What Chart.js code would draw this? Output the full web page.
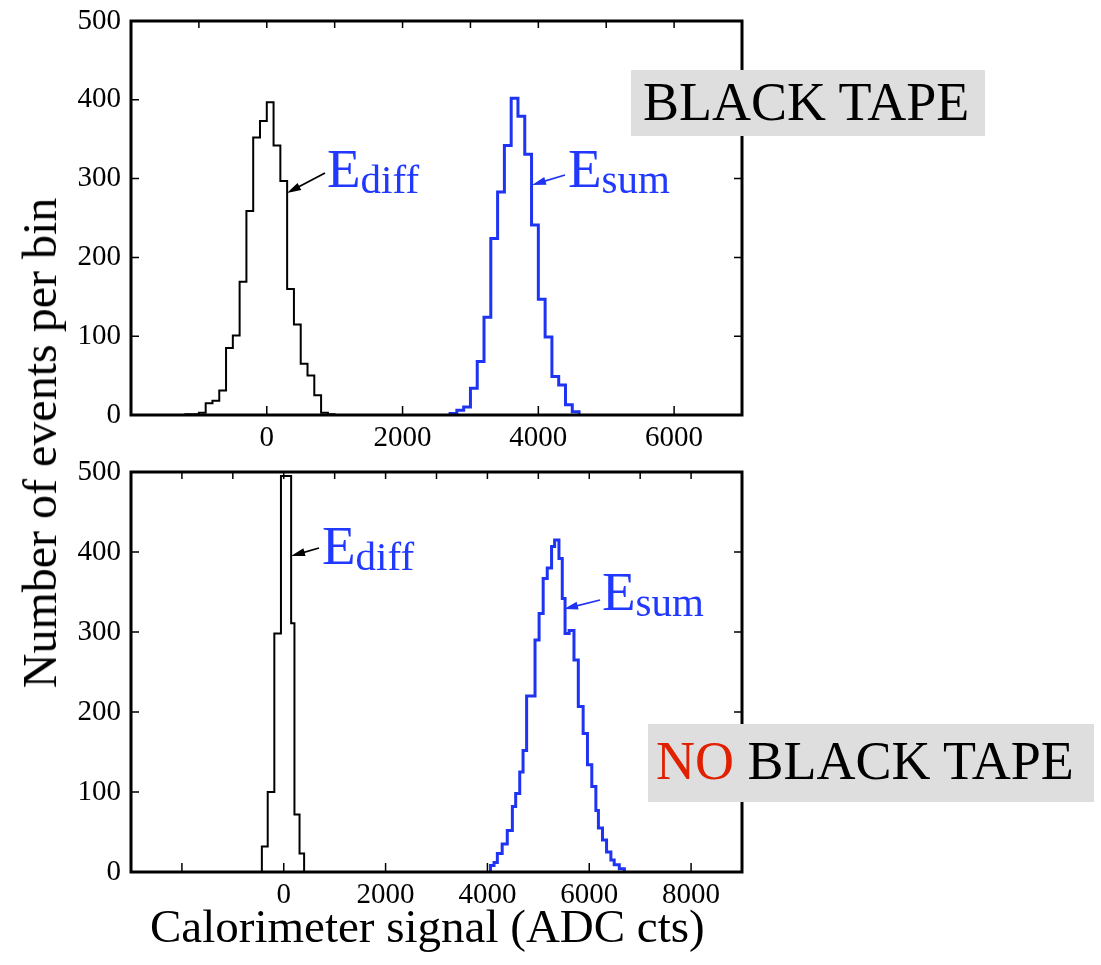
<!DOCTYPE html>
<html>
<head>
<meta charset="utf-8">
<script src="https://cdn.jsdelivr.net/npm/chart.js@4.4.1/dist/chart.umd.min.js"></script>
<style>
  body { margin: 0; background: #fff; }
  #wrap { position: relative; width: 1101px; height: 965px; overflow: hidden; font-family: "Liberation Serif", "Times New Roman", serif; }
  canvas { position: absolute; left: 0; }
  .txt { position: absolute; white-space: nowrap; color: #000; }
  .box { position: absolute; background: #dedede; }
</style>
</head>
<body>
<div id="wrap">
  <canvas id="topChart" width="1101" height="450" style="top:0"></canvas>
  <canvas id="bottomChart" width="1101" height="515" style="top:450px"></canvas>

  <div class="txt" id="yTitle" style="left:40px; top:443px; font-size:48px; line-height:48px; transform:translate(-50%,-50%) rotate(-90deg);">Number of events per bin</div>
  <div class="txt" style="left:150px; top:903px; font-size:47px; line-height:47px;">Calorimeter signal (ADC cts)</div>

  <div class="box" style="left:631px; top:70px; width:354px; height:66px;">
    <div class="txt" style="left:12px; top:5px; font-size:54px; line-height:54px;">BLACK TAPE</div>
  </div>
  <div class="box" style="left:648px; top:724px; width:446px; height:78px;">
    <div class="txt" style="left:8px; top:10px; font-size:54px; line-height:54px;"><span style="color:#e02000">NO</span> BLACK TAPE</div>
  </div>
</div>

<script>
// ---- data (bin edges in ADC counts, events per bin) ----
const topDiffEdges = [-1200, -1100, -1000, -900, -800, -700, -600, -500, -400, -300, -200, -100,
  0, 100, 200, 300, 400, 500, 600, 700, 800, 900, 1000];
const topDiffCounts = [1, 1, 3, 15, 18, 31, 85, 101, 169, 259, 352, 373,
  397, 342, 297, 160, 115, 65, 50, 25, 3, 1];

const topSumEdges = [2700, 2800, 2900, 3000, 3100, 3200, 3300, 3400, 3500, 3600,
  3700, 3800, 3900, 4000, 4100, 4200, 4300, 4400, 4500, 4600];
const topSumCounts = [2, 6, 10, 34, 68, 124, 224, 283, 342, 402,
  379, 331, 241, 147, 99, 49, 38, 13, 4];

const bottomDiffEdges = [-430, -315, -185, -55, 145, 210, 310, 400];
const bottomDiffCounts = [32, 100, 298, 495, 311, 72, 23];

const bottomSumEdges = [4060, 4130, 4195, 4290, 4390, 4490, 4555, 4635, 4700, 4770, 4850,
  4935, 5015, 5095, 5175, 5260, 5320, 5405, 5470, 5525, 5605, 5700, 5785, 5880, 5965,
  6050, 6130, 6180, 6260, 6340, 6425, 6490, 6590, 6690];
const bottomSumCounts = [8, 12, 23, 35, 52, 82, 98, 125, 152, 220, 220,
  290, 323, 367, 380, 407, 415, 392, 342, 298, 302, 265, 207, 173, 134,
  107, 77, 55, 40, 25, 15, 9, 4];

// axis ticks
const yTicks = [0, 100, 200, 300, 400, 500];
const topXLabels = [0, 2000, 4000, 6000];
const topXMinor = [-1000, 0, 1000, 2000, 3000, 4000, 5000, 6000];
const bottomXLabels = [0, 2000, 4000, 6000, 8000];
const bottomXMajor = [-2000, 0, 2000, 4000, 6000, 8000];
const bottomXMinor = [-2000, -1000, 0, 1000, 2000, 3000, 4000, 5000, 6000, 7000, 8000];

const BLUE = "#1e34f2";
const TEXT_BLUE = "#2038ff";
const FONT = '"Liberation Serif", "Times New Roman", serif';

function histPoints(edges, counts) {
  const pts = [{ x: edges[0], y: 0 }];
  counts.forEach((c, i) => pts.push({ x: edges[i], y: c }));
  pts.push({ x: edges[edges.length - 1], y: 0 });
  return pts;
}

function drawArrow(ctx, x1, y1, x2, y2, color) {
  const ang = Math.atan2(y2 - y1, x2 - x1);
  const c = Math.cos(ang), s = Math.sin(ang);
  ctx.save();
  ctx.strokeStyle = color;
  ctx.fillStyle = color;
  ctx.lineWidth = 1.8;
  ctx.beginPath();
  ctx.moveTo(x1, y1);
  ctx.lineTo(x2 - 8 * c, y2 - 8 * s);
  ctx.stroke();
  ctx.beginPath();
  ctx.moveTo(x2, y2);
  ctx.lineTo(x2 - 14 * c + 4 * s, y2 - 14 * s - 4 * c);
  ctx.lineTo(x2 - 14 * c - 4 * s, y2 - 14 * s + 4 * c);
  ctx.closePath();
  ctx.fill();
  ctx.restore();
}

function drawLabel(ctx, x, y, sub) {
  ctx.save();
  ctx.fillStyle = TEXT_BLUE;
  ctx.textBaseline = "alphabetic";
  ctx.textAlign = "left";
  ctx.font = "55px " + FONT;
  ctx.fillText("E", x, y);
  const w = ctx.measureText("E").width;
  ctx.font = "41px " + FONT;
  ctx.fillText(sub, x + w, y + 6);
  ctx.restore();
}

// frame, inward ticks, labels and arrows
function decor(cfg) {
  return {
    id: "decor",
    afterDraw(chart) {
      const { ctx, chartArea: a, scales } = chart;
      ctx.save();
      ctx.strokeStyle = "#000";
      ctx.lineWidth = 1.5;
      ctx.beginPath();
      yTicks.forEach(v => {
        const py = scales.y.getPixelForValue(v);
        ctx.moveTo(a.left, py); ctx.lineTo(a.left + 8, py);
        ctx.moveTo(a.right, py); ctx.lineTo(a.right - 8, py);
      });
      cfg.major.forEach(v => {
        const px = scales.x.getPixelForValue(v);
        ctx.moveTo(px, a.bottom); ctx.lineTo(px, a.bottom - 9);
      });
      cfg.minor.forEach(v => {
        const px = scales.x.getPixelForValue(v);
        ctx.moveTo(px, a.top); ctx.lineTo(px, a.top + 7);
      });
      ctx.stroke();
      ctx.lineWidth = 3;
      ctx.strokeRect(a.left, a.top, a.right - a.left, a.bottom - a.top);
      ctx.restore();
      cfg.labels.forEach(l => drawLabel(ctx, l.x, l.y, l.sub));
      cfg.arrows.forEach(r => drawArrow(ctx, r.from[0], r.from[1], r.to[0], r.to[1], r.color));
    }
  };
}

function makeChart(id, o) {
  return new Chart(document.getElementById(id), {
    type: "line",
    data: {
      datasets: [
        { data: histPoints(o.diffEdges, o.diffCounts), borderColor: "#000", borderWidth: 2 },
        { data: histPoints(o.sumEdges, o.sumCounts), borderColor: BLUE, borderWidth: 3 }
      ].map(d => Object.assign(d, { stepped: "before", pointRadius: 0, fill: false, tension: 0 }))
    },
    options: {
      responsive: false,
      animation: false,
      layout: { padding: { left: 0, right: 359, top: o.padTop, bottom: 0 } },
      plugins: { legend: { display: false }, tooltip: { enabled: false } },
      scales: {
        x: {
          type: "linear",
          min: o.xMin,
          max: o.xMax,
          grid: { display: false, drawTicks: false, tickLength: 0 },
          border: { display: false },
          ticks: { color: "#000", font: { family: FONT, size: 29 }, padding: 6, maxRotation: 0,
            callback: v => String(v) },
          afterBuildTicks: s => { s.ticks = o.xLabels.map(v => ({ value: v })); },
          afterFit: s => { s.height = o.xHeight; s.paddingLeft = 0; s.paddingRight = 0; }
        },
        y: {
          min: 0,
          max: 500,
          grid: { display: false, drawTicks: false, tickLength: 0 },
          border: { display: false },
          ticks: { color: "#000", font: { family: FONT, size: 29 }, padding: 10,
            callback: v => String(v) },
          afterBuildTicks: s => { s.ticks = yTicks.map(v => ({ value: v })); },
          afterFit: s => { s.width = 131; s.paddingTop = 0; s.paddingBottom = 0; }
        }
      }
    },
    plugins: [decor(o.decor)]
  });
}

makeChart("topChart", {
  diffEdges: topDiffEdges, diffCounts: topDiffCounts,
  sumEdges: topSumEdges, sumCounts: topSumCounts,
  xMin: -2000, xMax: 7000, xLabels: topXLabels,
  padTop: 21, xHeight: 35,
  decor: {
    major: topXLabels, minor: topXMinor,
    labels: [{ x: 327, y: 187, sub: "diff" }, { x: 568, y: 187, sub: "sum" }],
    arrows: [
      { from: [325, 173], to: [287, 193], color: "#000" },
      { from: [565, 175], to: [532, 185], color: BLUE }
    ]
  }
});

makeChart("bottomChart", {
  diffEdges: bottomDiffEdges, diffCounts: bottomDiffCounts,
  sumEdges: bottomSumEdges, sumCounts: bottomSumCounts,
  xMin: -3000, xMax: 9000, xLabels: bottomXLabels,
  padTop: 22, xHeight: 93,
  decor: {
    major: bottomXMajor, minor: bottomXMinor,
    labels: [{ x: 322, y: 114, sub: "diff" }, { x: 602, y: 160, sub: "sum" }],
    arrows: [
      { from: [319, 98], to: [291, 106], color: "#000" },
      { from: [600, 150], to: [564, 159], color: BLUE }
    ]
  }
});
</script>
</body>
</html>
